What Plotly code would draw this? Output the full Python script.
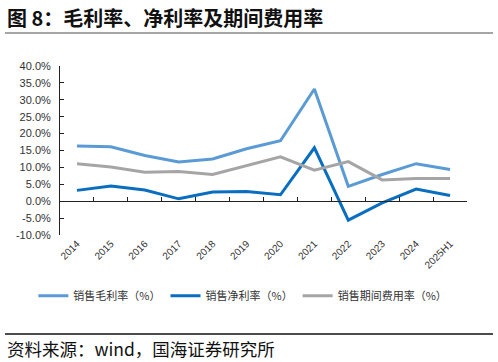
import plotly.graph_objects as go

categories = ["2014", "2015", "2016", "2017", "2018", "2019", "2020", "2021", "2022", "2023", "2024", "2025H1"]
gross_margin = [16.3, 16.1, 13.5, 11.6, 12.5, 15.5, 17.9, 33.2, 4.4, 7.9, 11.1, 9.4]
net_margin = [3.2, 4.5, 3.3, 0.7, 2.7, 2.9, 1.9, 15.8, -5.6, -0.5, 3.6, 1.7]
expense_ratio = [11.1, 10.1, 8.6, 8.8, 7.9, 10.6, 13.1, 9.2, 11.7, 6.3, 6.7, 6.7]
series_names = ["销售毛利率（%）", "销售净利率（%）", "销售期间费用率（%）"]
y_tickvals = [-10, -5, 0, 5, 10, 15, 20, 25, 30, 35, 40]
y_ticktext = [f"{v:.1f}%" for v in y_tickvals]

colors = ["#5B9BD5", "#0A6EC0", "#A5A5A5"]
FONT = "Noto Sans CJK SC"

fig = go.Figure()
for name, vals, c in zip(series_names, [gross_margin, net_margin, expense_ratio], colors):
    fig.add_trace(go.Scatter(x=categories, y=vals, mode="lines", name=name,
                             line=dict(color=c, width=3), hoverinfo="skip"))
# invisible helper on overlay axis for the zero-line axis with boundary ticks
fig.add_trace(go.Scatter(x=[-0.5, 11.5], y=[0, 0], xaxis="x2", mode="lines",
                         line=dict(width=0), showlegend=False, hoverinfo="skip"))

W, H = 498, 362
ml, mr, mt, mb = 60, 31, 66, 127
pw = W - ml - mr
ph = H - mt - mb
def px_x(x):
    return (x - ml) / pw
def px_y(y):
    return (H - mb - y) / ph

fig.update_layout(
    width=W, height=H,
    margin=dict(l=ml, r=mr, t=mt, b=mb, autoexpand=False),
    paper_bgcolor="white", plot_bgcolor="white",
    font=dict(family=FONT, color="#222"),
    showlegend=True,
    legend=dict(orientation="h", x=-0.09 + 10 / pw, xanchor="left", y=-0.36, yanchor="middle",
                font=dict(size=11, family=FONT, color="#333"),
                itemwidth=30, bgcolor="rgba(0,0,0,0)"),
    xaxis=dict(type="category", categoryarray=categories, showline=False, ticks="",
               tickangle=-45, tickfont=dict(size=10, family="Arial", color="#333"),
               showgrid=False, zeroline=False, range=[-0.5, 11.5]),
    xaxis2=dict(overlaying="x", anchor="free", position=0.2, range=[-0.5, 11.5],
                tick0=-0.5, dtick=1, ticks="inside", ticklen=4, tickcolor="#222",
                showticklabels=False, showline=True, linecolor="#222", linewidth=1,
                showgrid=False, zeroline=False),
    yaxis=dict(range=[-10, 40], tickvals=y_tickvals, ticktext=y_ticktext,
               showline=True, linecolor="#222", linewidth=1, ticks="inside", ticklen=4,
               tickcolor="#222", showgrid=False, zeroline=False,
               tickfont=dict(size=11, family="Arial", color="#333"), ticklabelstandoff=6),
)

fig.add_annotation(text="<b>图 8：毛利率、净利率及期间费用率</b>", xref="paper", yref="paper",
                   x=px_x(5), y=px_y(17), xanchor="left", yanchor="middle", showarrow=False,
                   font=dict(size=20, family=FONT, color="#111"))
fig.add_annotation(text="资料来源：wind，国海证券研究所", xref="paper", yref="paper",
                   x=px_x(5), y=px_y(348), xanchor="left", yanchor="middle", showarrow=False,
                   font=dict(size=17.5, family=FONT, color="#111"))

fig.add_shape(type="line", xref="paper", yref="paper", x0=px_x(5), x1=px_x(493),
              y0=px_y(33), y1=px_y(33), line=dict(color="#888", width=1.5))
fig.add_shape(type="line", xref="paper", yref="paper", x0=px_x(5), x1=px_x(493),
              y0=px_y(334), y1=px_y(334), line=dict(color="#111", width=1.5))

fig.write_html("out.html", config={"displayModeBar": False},
               post_script="document.body.style.margin='0px';")
